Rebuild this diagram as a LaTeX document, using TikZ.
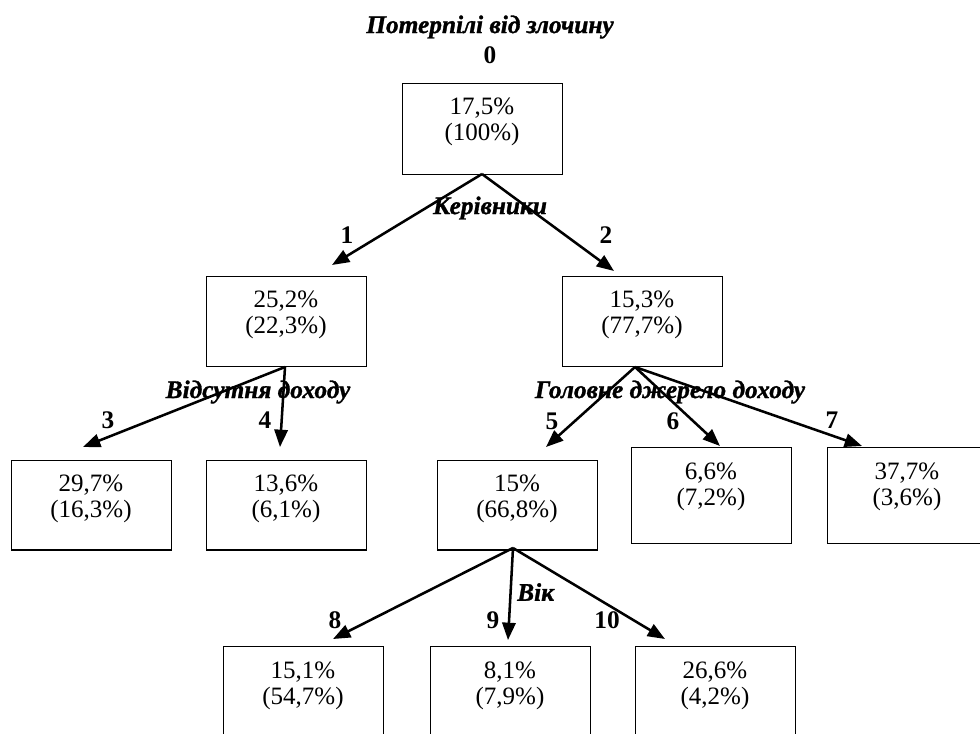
\documentclass[tikz,border=0pt]{standalone}
\usepackage{fontspec}
\setmainfont{Liberation Serif}
\newfontfamily\heavyfont{Liberation Serif}[BoldItalicFeatures={FakeBold=1.2}]
\usetikzlibrary{arrows.meta}
\begin{document}
\begin{tikzpicture}[x=0.75pt,y=-0.75pt,
  box/.style={draw,line width=1.1pt,minimum width=120pt,inner sep=0pt,anchor=north west},
  val/.style={align=center,inner sep=0pt,font=\fontsize{18.75}{20}\selectfont},
  lbl/.style={inner sep=0pt,font=\fontsize{19}{20}\heavyfont\bfseries\itshape},
  num/.style={inner sep=0pt,font=\fontsize{19}{20}\selectfont\bfseries},
  arr/.style={line width=1.9pt,-{Triangle[length=13pt,width=10pt]}}]
\useasboundingbox (0,0) rectangle (980,734);
\clip (0,0) rectangle (980,734);
% boxes
\node[box,minimum height=68.25pt] (b0) at (402,83) {};
\node[box,minimum height=67.5pt] (b1) at (206,276) {};
\node[box,minimum height=67.5pt] (b2) at (562,276) {};
\node[box,minimum height=67pt] (b3) at (11,460) {};
\node[box,minimum height=67pt] (b4) at (206,460) {};
\node[box,minimum height=67pt] (b5) at (437,460) {};
\node[box,minimum height=72pt] (b6) at (631,447) {};
\node[box,minimum height=72pt] (b7) at (827,447) {};
\node[box,minimum height=80pt] (b8) at (223,646) {};
\node[box,minimum height=80pt] (b9) at (430,646) {};
\node[box,minimum height=80pt] (b10) at (635,646) {};
% values
\node[val] (v0) at (482,122) {17,5\%\\(100\%)};
\node[val] (v1) at (286,315) {25,2\%\\(22,3\%)};
\node[val] (v2) at (642,315) {15,3\%\\(77,7\%)};
\node[val] (v3) at (91,499) {29,7\%\\(16,3\%)};
\node[val] (v4) at (286,499) {13,6\%\\(6,1\%)};
\node[val] (v5) at (517,499) {15\%\\(66,8\%)};
\node[val] (v6) at (711,487) {6,6\%\\(7,2\%)};
\node[val] (v7) at (907,487) {37,7\%\\(3,6\%)};
\node[val] (v8) at (303,686) {15,1\%\\(54,7\%)};
\node[val] (v9) at (510,686) {8,1\%\\(7,9\%)};
\node[val] (v10) at (715,686) {26,6\%\\(4,2\%)};
% apex and tip coordinates
\coordinate (a0) at (482,174);
\coordinate (a1) at (285,367);
\coordinate (a2) at (635,367);
\coordinate (a5) at (513,548);
\coordinate (t1) at (332,265);
\coordinate (t2) at (614,271);
\coordinate (t3) at (83,447);
\coordinate (t4) at (280,447);
\coordinate (t5) at (546,447);
\coordinate (t6) at (720,446);
\coordinate (t7) at (862,446);
\coordinate (t8) at (333,639);
\coordinate (t9) at (508,640);
\coordinate (t10) at (665,639);
% connectors
\draw[arr] (a0) -- (t1);
\draw[arr] (a0) -- (t2);
\draw[arr] (a1) -- (t3);
\draw[arr] (a1) -- (t4);
\draw[arr] (a2) -- (t5);
\draw[arr] (a2) -- (t6);
\draw[arr] (a2) -- (t7);
\draw[arr] (a5) -- (t8);
\draw[arr] (a5) -- (t9);
\draw[arr] (a5) -- (t10);
% labels
\node[lbl] (title) at (490,27) {Потерпілі від злочину};
\node[num] (n0) at (490,55) {0};
\node[lbl] (k1) at (490,208) {Керівники};
\node[num] (n1) at (347,235) {1};
\node[num] (n2) at (606,235) {2};
\node[lbl] (k2) at (258,392) {Відсутня доходу};
\node[lbl] (k3) at (670,392) {Головне джерело доходу};
\node[num] (n3) at (108,420) {3};
\node[num] (n4) at (265,420) {4};
\node[num] (n5) at (552,421) {5};
\node[num] (n6) at (673,421) {6};
\node[num] (n7) at (832,420) {7};
\node[lbl,anchor=west] (k4) at (517,592) {Вік};
\node[num] (n8) at (335,620) {8};
\node[num] (n9) at (493,620) {9};
\node[num] (n10) at (607,620) {10};
\end{tikzpicture}
\end{document}
